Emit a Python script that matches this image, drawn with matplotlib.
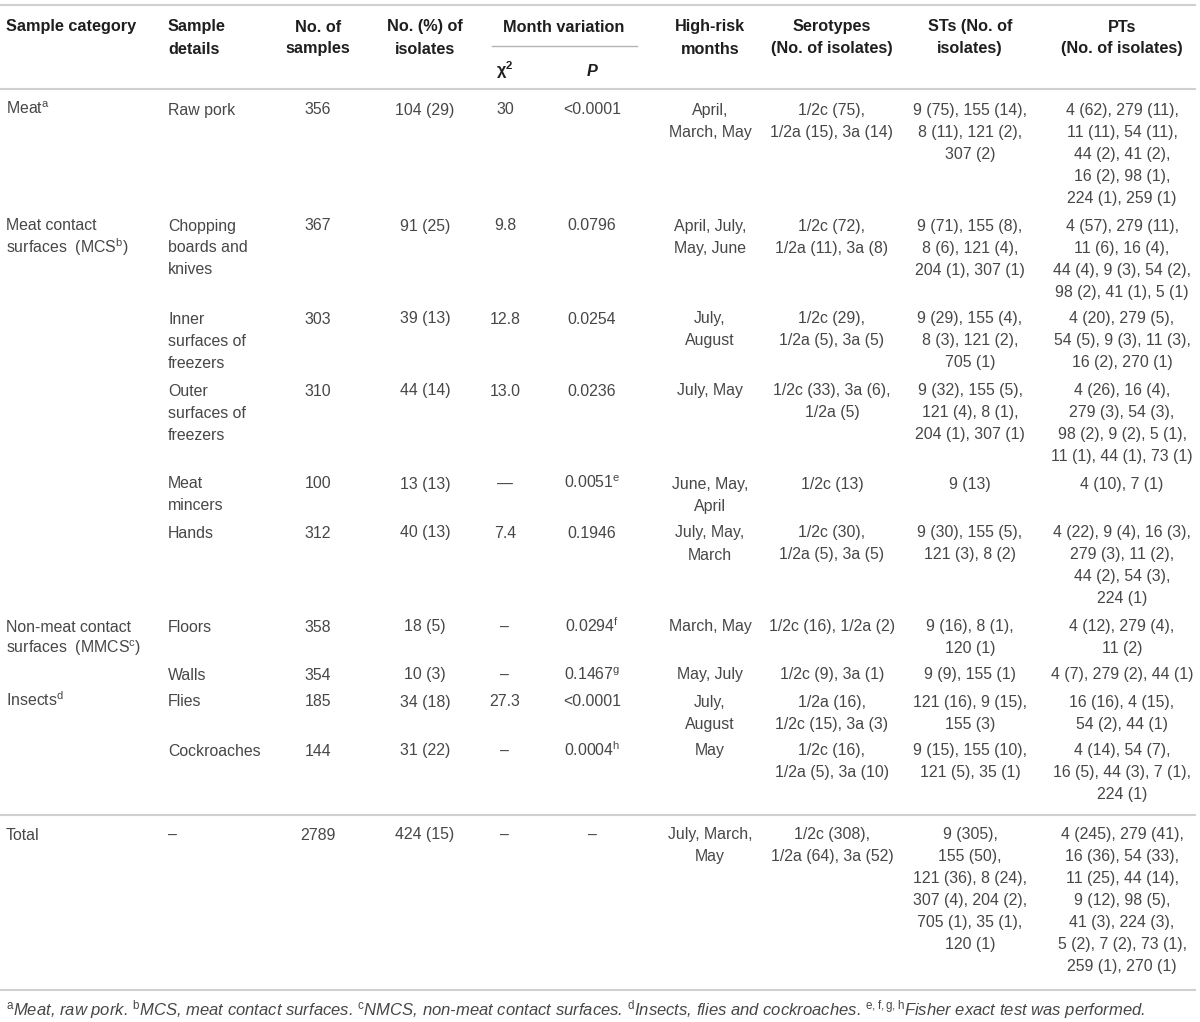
import matplotlib
matplotlib.use('Agg')
import matplotlib.pyplot as plt

plt.rcParams['font.family'] = 'Liberation Sans'
plt.rcParams['mathtext.fontset'] = 'custom'
plt.rcParams['mathtext.rm'] = 'Liberation Sans'
plt.rcParams['mathtext.it'] = 'Liberation Sans:italic'
plt.rcParams['mathtext.bf'] = 'Liberation Sans:bold'

## table content
categories = ['Meat$^{\\mathrm{a}}$', 'Meat contact\nsurfaces  (MCS$^{\\mathrm{b}}$)', '', '', '', '',
              'Non-meat contact\nsurfaces  (MMCS$^{\\mathrm{c}}$)', '', 'Insects$^{\\mathrm{d}}$', '', 'Total']
details = ['Raw pork', 'Chopping\nboards and\nknives', 'Inner\nsurfaces of\nfreezers',
           'Outer\nsurfaces of\nfreezers', 'Meat\nmincers', 'Hands', 'Floors', 'Walls',
           'Flies', 'Cockroaches', '\u2013']
n_samples = ['356', '367', '303', '310', '100', '312', '358', '354', '185', '144', '2789']
n_isolates = ['104 (29)', '91 (25)', '39 (13)', '44 (14)', '13 (13)', '40 (13)', '18 (5)',
              '10 (3)', '34 (18)', '31 (22)', '424 (15)']
chi2 = ['30', '9.8', '12.8', '13.0', '\u2014', '7.4', '\u2013', '\u2013', '27.3', '\u2013', '\u2013']
pvals = ['<0.0001', '0.0796', '0.0254', '0.0236', '0.0051$^{\\mathrm{e}}$', '0.1946',
         '0.0294$^{\\mathrm{f}}$', '0.1467$^{\\mathrm{g}}$', '<0.0001', '0.0004$^{\\mathrm{h}}$', '\u2013']
months = ['April,\nMarch, May', 'April, July,\nMay, June', 'July,\nAugust', 'July, May',
          'June, May,\nApril', 'July, May,\nMarch', 'March, May', 'May, July', 'July,\nAugust',
          'May', 'July, March,\nMay']
serotypes = ['1/2c (75),\n1/2a (15), 3a (14)', '1/2c (72),\n1/2a (11), 3a (8)',
             '1/2c (29),\n1/2a (5), 3a (5)', '1/2c (33), 3a (6),\n1/2a (5)', '1/2c (13)',
             '1/2c (30),\n1/2a (5), 3a (5)', '1/2c (16), 1/2a (2)', '1/2c (9), 3a (1)',
             '1/2a (16),\n1/2c (15), 3a (3)', '1/2c (16),\n1/2a (5), 3a (10)',
             '1/2c (308),\n1/2a (64), 3a (52)']
sts = ['9 (75), 155 (14),\n8 (11), 121 (2),\n307 (2)',
       '9 (71), 155 (8),\n8 (6), 121 (4),\n204 (1), 307 (1)',
       '9 (29), 155 (4),\n8 (3), 121 (2),\n705 (1)',
       '9 (32), 155 (5),\n121 (4), 8 (1),\n204 (1), 307 (1)',
       '9 (13)',
       '9 (30), 155 (5),\n121 (3), 8 (2)',
       '9 (16), 8 (1),\n120 (1)',
       '9 (9), 155 (1)',
       '121 (16), 9 (15),\n155 (3)',
       '9 (15), 155 (10),\n121 (5), 35 (1)',
       '9 (305),\n155 (50),\n121 (36), 8 (24),\n307 (4), 204 (2),\n705 (1), 35 (1),\n120 (1)']
pts = ['4 (62), 279 (11),\n11 (11), 54 (11),\n44 (2), 41 (2),\n16 (2), 98 (1),\n224 (1), 259 (1)',
       '4 (57), 279 (11),\n11 (6), 16 (4),\n44 (4), 9 (3), 54 (2),\n98 (2), 41 (1), 5 (1)',
       '4 (20), 279 (5),\n54 (5), 9 (3), 11 (3),\n16 (2), 270 (1)',
       '4 (26), 16 (4),\n279 (3), 54 (3),\n98 (2), 9 (2), 5 (1),\n11 (1), 44 (1), 73 (1)',
       '4 (10), 7 (1)',
       '4 (22), 9 (4), 16 (3),\n279 (3), 11 (2),\n44 (2), 54 (3),\n224 (1)',
       '4 (12), 279 (4),\n11 (2)',
       '4 (7), 279 (2), 44 (1)',
       '16 (16), 4 (15),\n54 (2), 44 (1)',
       '4 (14), 54 (7),\n16 (5), 44 (3), 7 (1),\n224 (1)',
       '4 (245), 279 (41),\n16 (36), 54 (33),\n11 (25), 44 (14),\n9 (12), 98 (5),\n41 (3), 224 (3),\n5 (2), 7 (2), 73 (1),\n259 (1), 270 (1)']
headers = ['Sample category', 'Sample\ndetails', 'No. of\nsamples', 'No. (%) of\nisolates',
           'High-risk\nmonths', 'Serotypes\n(No. of isolates)', 'STs (No. of\nisolates)',
           'PTs\n(No. of isolates)']
footnote = ('$^{\\mathrm{a}}$Meat, raw pork. $^{\\mathrm{b}}$MCS, meat contact surfaces. '
            '$^{\\mathrm{c}}$NMCS, non-meat contact surfaces. $^{\\mathrm{d}}$Insects, flies and cockroaches. '
            '$^{\\mathrm{e,f,g,h}}$Fisher exact test was performed.')

## layout (pixels)
row_y = [109, 225, 318, 390, 483, 532, 626, 674, 701, 750, 834]
lh = 22
fs = 11.4
fs_hdr = 11.7
txt_col = '#474747'
hdr_col = '#1e1e1e'
rule_col = '#d0d0d0'

fig = plt.figure(figsize=(12, 10.22), dpi=100)
ax = fig.add_axes([0, 0, 1, 1])
ax.set_xlim(0, 1200)
ax.set_ylim(1022, 0)
ax.axis('off')


def put(x, y, s, ha='left', bold=False, color=txt_col):
    for i, line in enumerate(s.split('\n')):
        ax.text(x, y + i * lh + 5.5, line, ha=ha, va='baseline',
                fontsize=fs_hdr if bold else fs,
                fontweight='bold' if bold else 'normal', color=color)


## header
hx = [(6, 'left'), (168, 'left'), (318, 'center'), (425, 'center'),
      (710, 'center'), (832, 'center'), (970, 'center'), (1122, 'center')]
for (x, ha), h in zip(hx, headers):
    put(x, 26, h, ha=ha, bold=True, color=hdr_col)
put(564, 26, 'Month variation', ha='center', bold=True, color=hdr_col)
ax.text(496, 76, '\u03c7$^{\\mathbf{2}}$', ha='left', va='baseline', fontsize=fs_hdr,
        fontweight='bold', color=hdr_col)
ax.text(592, 76, 'P', ha='center', va='baseline', fontsize=fs_hdr, fontweight='bold',
        fontstyle='italic', color=hdr_col)

## rules
ax.plot([0, 1195], [5, 5], color=rule_col, lw=1.5)
ax.plot([492, 637], [46, 46], color='#b5b5b5', lw=1.0)
ax.plot([0, 1195], [89, 89], color=rule_col, lw=1.5)
ax.plot([0, 1195], [815, 815], color=rule_col, lw=1.5)
ax.plot([0, 1195], [990, 990], color=rule_col, lw=1.5)

## body
for i, y in enumerate(row_y):
    put(6, y, categories[i])
    put(168, y, details[i])
    put(318, y, n_samples[i], ha='center')
    put(425, y, n_isolates[i], ha='center')
    put(505, y, chi2[i], ha='center')
    put(592, y, pvals[i], ha='center')
    put(710, y, months[i], ha='center')
    put(832, y, serotypes[i], ha='center')
    put(970, y, sts[i], ha='center')
    put(1122, y, pts[i], ha='center')

ax.text(6, 1015, footnote, ha='left', va='baseline', fontsize=11.95, fontstyle='italic',
        color=txt_col)

fig.savefig('out.png', dpi=100)
